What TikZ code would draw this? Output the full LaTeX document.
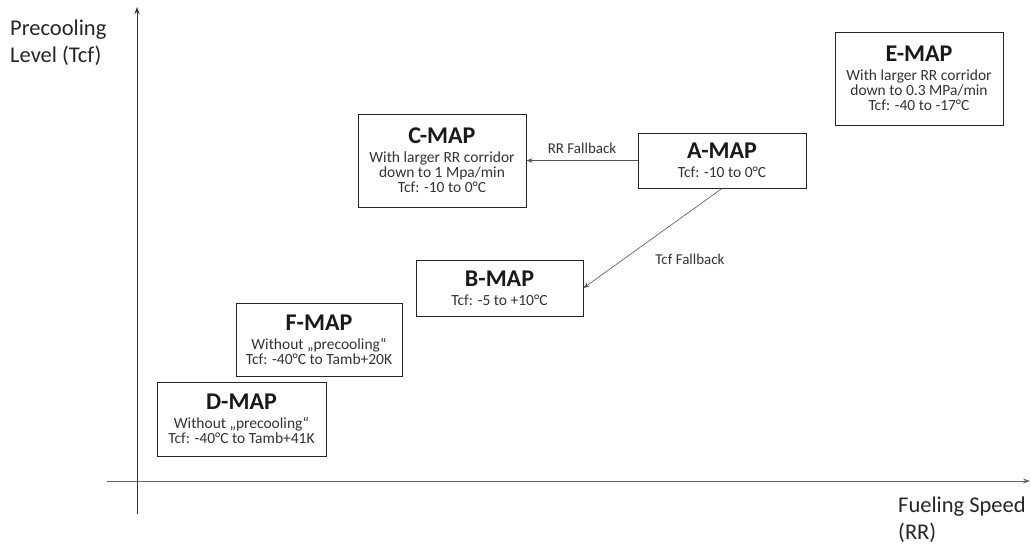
\documentclass[tikz,border=0pt]{standalone}
\usepackage{fontspec}
\setmainfont{Carlito}
\usetikzlibrary{arrows.meta}
\definecolor{bodytxt}{HTML}{333333}
\definecolor{linegray}{HTML}{555555}
\tikzset{
  mapbox/.style={draw=black!85, line width=0.9pt, minimum width=168pt, inner sep=0pt, align=center, text=bodytxt,
    font=\fontsize{15.5}{15}\selectfont},
  conn/.style={draw=linegray, line width=0.6pt, -{Stealth[length=6pt,width=4.5pt]}},
  axis/.style={draw=black!80, line width=0.9pt},
  lbl/.style={font=\fontsize{15}{16}\selectfont, text=bodytxt, inner sep=0pt},
  axlbl/.style={font=\fontsize{22.5}{27}\selectfont, text=black!85, inner sep=0pt, align=left}
}
\newcommand{\mtitle}[1]{{\fontsize{24}{24}\selectfont\bfseries\color{black!90}#1}\\[4pt]}
\begin{document}
\begin{tikzpicture}[x=1pt,y=-1pt]
\useasboundingbox (0,0) rectangle (1031,544);
% axes
\coordinate (yb) at (137,514);
\coordinate (yt) at (137,7);
\coordinate (xl) at (107,481);
\coordinate (xr) at (1030,481);
\draw[axis, -{Stealth[length=7pt,width=5pt]}] (yb) -- (yt);
\draw[axis, draw=black!60, -{Stealth[length=7pt,width=5pt]}] (xl) -- (xr);
\node[axlbl, anchor=north west] (ylab) at (10,20) {Precooling\\Level (Tcf)};
\node[axlbl, anchor=north west] (xlab) at (898,497) {Fueling Speed\\(RR)};
% boxes
\node[mapbox, minimum height=93pt] (C) at (442,160.5) {\mtitle{C-MAP}With larger RR corridor\\down to 1 Mpa/min\\Tcf: -10 to 0°C};
\node[mapbox, minimum height=55pt] (A) at (722,160.5) {\mtitle{A-MAP}Tcf: -10 to 0°C};
\node[mapbox, minimum height=93pt] (E) at (919,78.5) {\mtitle{E-MAP}With larger RR corridor\\down to 0.3 MPa/min\\Tcf: -40 to -17°C};
\node[mapbox, minimum height=56pt, minimum width=167pt] (B) at (499.5,288) {\mtitle{B-MAP}Tcf: -5 to +10°C};
\node[mapbox, minimum height=73pt, minimum width=166pt] (F) at (319,339.5) {\mtitle{F-MAP}Without „precooling“\\Tcf: -40°C to Tamb+20K};
\node[mapbox, minimum height=74pt, minimum width=169pt] (D) at (241.5,419) {\mtitle{D-MAP}Without „precooling“\\Tcf: -40°C to Tamb+41K};
% connectors
\draw[conn] (A.west) -- (C.east) node[lbl, midway, above=7pt] (rr) {RR Fallback};
\draw[conn] (A.south) -- (B.east);
\node[lbl] (tcf) at (690,259) {Tcf Fallback};
\end{tikzpicture}
\end{document}
